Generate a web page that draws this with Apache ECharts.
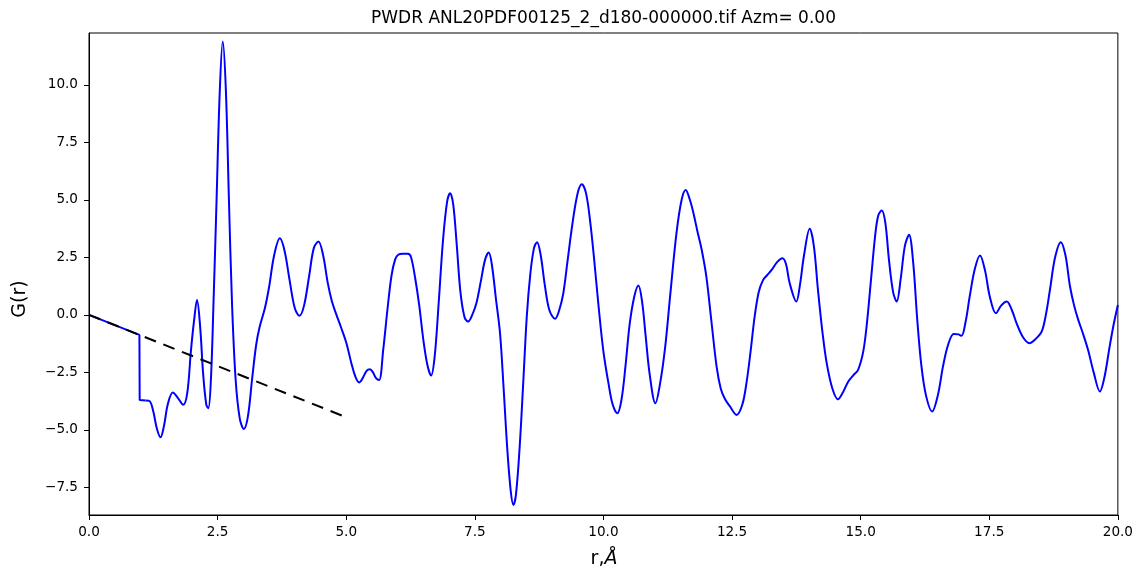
<!DOCTYPE html>
<html>
<head>
<meta charset="utf-8">
<title>G(r)</title>
<script src="https://cdn.jsdelivr.net/npm/echarts@6/dist/echarts.min.js"></script>
<style>
  html, body { margin: 0; padding: 0; background: #ffffff; }
  #chart { width: 1136px; height: 569px; }
</style>
</head>
<body>
<div id="chart"></div>
<script>
// Low-r part of G(r): linear baseline up to the cutoff, then the step
const rHead = [0.0, 0.98, 0.985, 1.10];
const gHead = [0.0, -0.872, -3.70, -3.72];

// G(r) beyond the cutoff
const rMain = [
  1.10, 1.18, 1.25, 1.32, 1.39, 1.46, 1.53, 1.63, 1.73, 1.83,
  1.91, 1.98, 2.04, 2.10, 2.16, 2.22, 2.28, 2.32, 2.37, 2.42,
  2.48, 2.54, 2.60, 2.66, 2.72, 2.78, 2.85, 2.93, 3.01, 3.09,
  3.17, 3.25, 3.32, 3.42, 3.50, 3.60, 3.71, 3.80, 3.90, 4.00,
  4.09, 4.18, 4.28, 4.37, 4.46, 4.55, 4.64, 4.72, 4.81, 4.90,
  5.00, 5.10, 5.18, 5.25, 5.32, 5.40, 5.46, 5.52, 5.58, 5.64,
  5.72, 5.80, 5.88, 5.95, 6.01, 6.10, 6.20, 6.26, 6.34, 6.42,
  6.50, 6.58, 6.65, 6.72, 6.80, 6.88, 6.96, 7.02, 7.08, 7.15,
  7.22, 7.30, 7.37, 7.45, 7.53, 7.62, 7.70, 7.77, 7.83, 7.91,
  7.99, 8.06, 8.13, 8.20, 8.25, 8.30, 8.37, 8.44, 8.51, 8.58,
  8.65, 8.71, 8.78, 8.86, 8.95, 9.06, 9.14, 9.22, 9.30, 9.40,
  9.50, 9.58, 9.66, 9.74, 9.82, 9.90, 10.00, 10.10, 10.18, 10.27,
  10.35, 10.43, 10.51, 10.60, 10.68, 10.75, 10.82, 10.90, 11.01, 11.10,
  11.20, 11.30, 11.42, 11.52, 11.60, 11.68, 11.75, 11.83, 11.91, 12.00,
  12.10, 12.20, 12.28, 12.36, 12.45, 12.59, 12.70, 12.78, 12.86, 12.94,
  13.02, 13.10, 13.18, 13.27, 13.38, 13.48, 13.55, 13.62, 13.75, 13.82,
  13.90, 14.01, 14.09, 14.17, 14.26, 14.34, 14.45, 14.56, 14.66, 14.76,
  14.86, 14.95, 15.05, 15.12, 15.20, 15.28, 15.34, 15.41, 15.48, 15.55,
  15.63, 15.70, 15.78, 15.86, 15.94, 16.02, 16.10, 16.18, 16.27, 16.39,
  16.50, 16.60, 16.70, 16.81, 16.90, 16.96, 17.04, 17.12, 17.22, 17.32,
  17.42, 17.51, 17.63, 17.73, 17.84, 17.94, 18.03, 18.15, 18.28, 18.40,
  18.52, 18.60, 18.68, 18.78, 18.89, 18.98, 19.07, 19.15, 19.23, 19.32,
  19.42, 19.53, 19.65, 19.74, 19.84, 19.92, 20.00
];
const gMain = [
  -3.72, -3.75, -4.20, -4.95, -5.32, -4.80, -3.90, -3.38, -3.62, -3.91,
  -3.40, -1.60, -0.30, 0.65, -0.50, -2.60, -3.90, -4.06, -2.80, 0.50,
  5.00, 9.60, 11.88, 9.80, 5.00, 0.50, -2.80, -4.50, -4.96, -4.40,
  -2.80, -1.30, -0.50, 0.30, 1.20, 2.60, 3.33, 2.80, 1.50, 0.30,
  -0.04, 0.40, 1.70, 2.90, 3.19, 2.60, 1.40, 0.60, 0.00, -0.55,
  -1.20, -2.10, -2.70, -2.94, -2.75, -2.42, -2.36, -2.50, -2.75, -2.83,
  -1.50, 0.20, 1.70, 2.40, 2.61, 2.65, 2.65, 2.50, 1.60, 0.40,
  -1.10, -2.20, -2.64, -1.80, 0.60, 3.20, 4.90, 5.29, 4.80, 3.00,
  1.00, -0.10, -0.29, 0.00, 0.50, 1.50, 2.40, 2.71, 2.20, 0.70,
  -0.80, -3.20, -5.80, -7.70, -8.26, -7.80, -5.80, -3.00, -0.07, 1.80,
  2.90, 3.16, 2.60, 1.30, 0.20, -0.17, 0.20, 0.94, 2.30, 4.00,
  5.30, 5.68, 5.30, 4.10, 2.40, 0.50, -1.60, -3.00, -3.90, -4.28,
  -3.70, -2.20, -0.40, 0.80, 1.28, 0.60, -0.90, -2.60, -3.84, -3.00,
  -1.40, 0.90, 3.55, 5.00, 5.43, 5.00, 4.42, 3.60, 2.83, 1.67,
  -0.30, -2.25, -3.20, -3.65, -3.95, -4.35, -3.90, -2.97, -1.60, -0.07,
  1.00, 1.50, 1.72, 1.95, 2.30, 2.46, 2.20, 1.38, 0.58, 1.30,
  2.60, 3.74, 3.00, 1.09, -0.80, -2.10, -3.20, -3.67, -3.35, -2.90,
  -2.62, -2.39, -1.60, -0.40, 1.50, 3.40, 4.30, 4.54, 4.00, 2.40,
  1.00, 0.58, 1.60, 3.00, 3.48, 2.30, -0.20, -2.20, -3.50, -4.20,
  -3.50, -2.25, -1.30, -0.83, -0.85, -0.91, -0.30, 0.80, 2.00, 2.58,
  1.90, 0.80, 0.07, 0.40, 0.58, 0.20, -0.36, -0.95, -1.23, -1.05,
  -0.72, 0.00, 1.09, 2.50, 3.16, 2.60, 1.23, 0.40, -0.22, -0.80,
  -1.52, -2.50, -3.33, -2.70, -1.38, -0.40, 0.43
];

// Dashed reference line -4*pi*rho0*r
const rDash = [0.0, 4.92];
const gDash = [0.0, -4.38];

// Axis ranges and tick values
const xMin = 0, xMax = 20, xStep = 2.5;
const yMin = -8.70, yMax = 12.25;
const yTicks = [-7.5, -5.0, -2.5, 0.0, 2.5, 5.0, 7.5, 10.0];

const titleText = 'PWDR ANL20PDF00125_2_d180-000000.tif Azm= 0.00';

const zip = (xs, ys) => xs.map((x, i) => [x, ys[i]]);
const fmt = v => {
  const s = Math.abs(v).toFixed(1);
  return v < 0 ? '\u2212' + s : s;
};

const FONT = '"DejaVu Sans", "Liberation Sans", sans-serif';
const chart = echarts.init(document.getElementById('chart'), null, { renderer: 'canvas' });

chart.setOption({
  animation: false,
  backgroundColor: '#ffffff',
  grid: {
    left: 89, right: 18, top: 33, bottom: 54,
    show: true, borderColor: '#000000', borderWidth: 1, backgroundColor: 'transparent'
  },
  xAxis: {
    type: 'value',
    min: xMin, max: xMax, interval: xStep,
    axisLine: { show: true, onZero: false, lineStyle: { color: '#000000', width: 1 } },
    axisTick: { show: true, inside: false, length: 5, lineStyle: { color: '#000000', width: 1 } },
    axisLabel: { show: true, margin: 10, color: '#000000', fontFamily: FONT, fontSize: 13.6, formatter: v => fmt(v) },
    splitLine: { show: false }
  },
  yAxis: {
    type: 'value',
    min: yMin, max: yMax,
    axisLine: { show: true, onZero: false, lineStyle: { color: '#000000', width: 1 } },
    axisTick: { show: true, inside: false, length: 5, customValues: yTicks, lineStyle: { color: '#000000', width: 1 } },
    axisLabel: { show: true, margin: 11, color: '#000000', fontFamily: FONT, fontSize: 13.6, customValues: yTicks, formatter: v => fmt(v) },
    splitLine: { show: false }
  },
  graphic: [
    {
      type: 'text', x: 603.5, y: 19,
      style: { text: titleText, font: '17px ' + FONT, fill: '#000000', textAlign: 'center', textVerticalAlign: 'middle' }
    },
    {
      type: 'text', x: 604, y: 559,
      style: {
        text: '{a|r,}{b|\u00C5}',
        textAlign: 'center', textVerticalAlign: 'middle',
        rich: {
          a: { fontFamily: FONT, fontSize: 19, fill: '#000000', color: '#000000' },
          b: { fontFamily: FONT, fontSize: 19, fontStyle: 'italic', fill: '#000000', color: '#000000' }
        }
      }
    },
    {
      type: 'text', x: 20, y: 299, rotation: Math.PI / 2,
      style: { text: 'G(r)', font: '19px ' + FONT, fill: '#000000', textAlign: 'center', textVerticalAlign: 'middle' }
    }
  ],
  series: [
    {
      type: 'line', data: zip(rHead, gHead), showSymbol: false, smooth: false,
      lineStyle: { color: '#0000ff', width: 2 }, z: 2
    },
    {
      type: 'line', data: zip(rMain, gMain), showSymbol: false, smooth: 0.35,
      lineStyle: { color: '#0000ff', width: 2 }, z: 2
    },
    {
      type: 'line', data: zip(rDash, gDash), showSymbol: false, smooth: false,
      lineStyle: { color: '#000000', width: 2, type: [12, 8] }, z: 3
    }
  ]
});
</script>
</body>
</html>
